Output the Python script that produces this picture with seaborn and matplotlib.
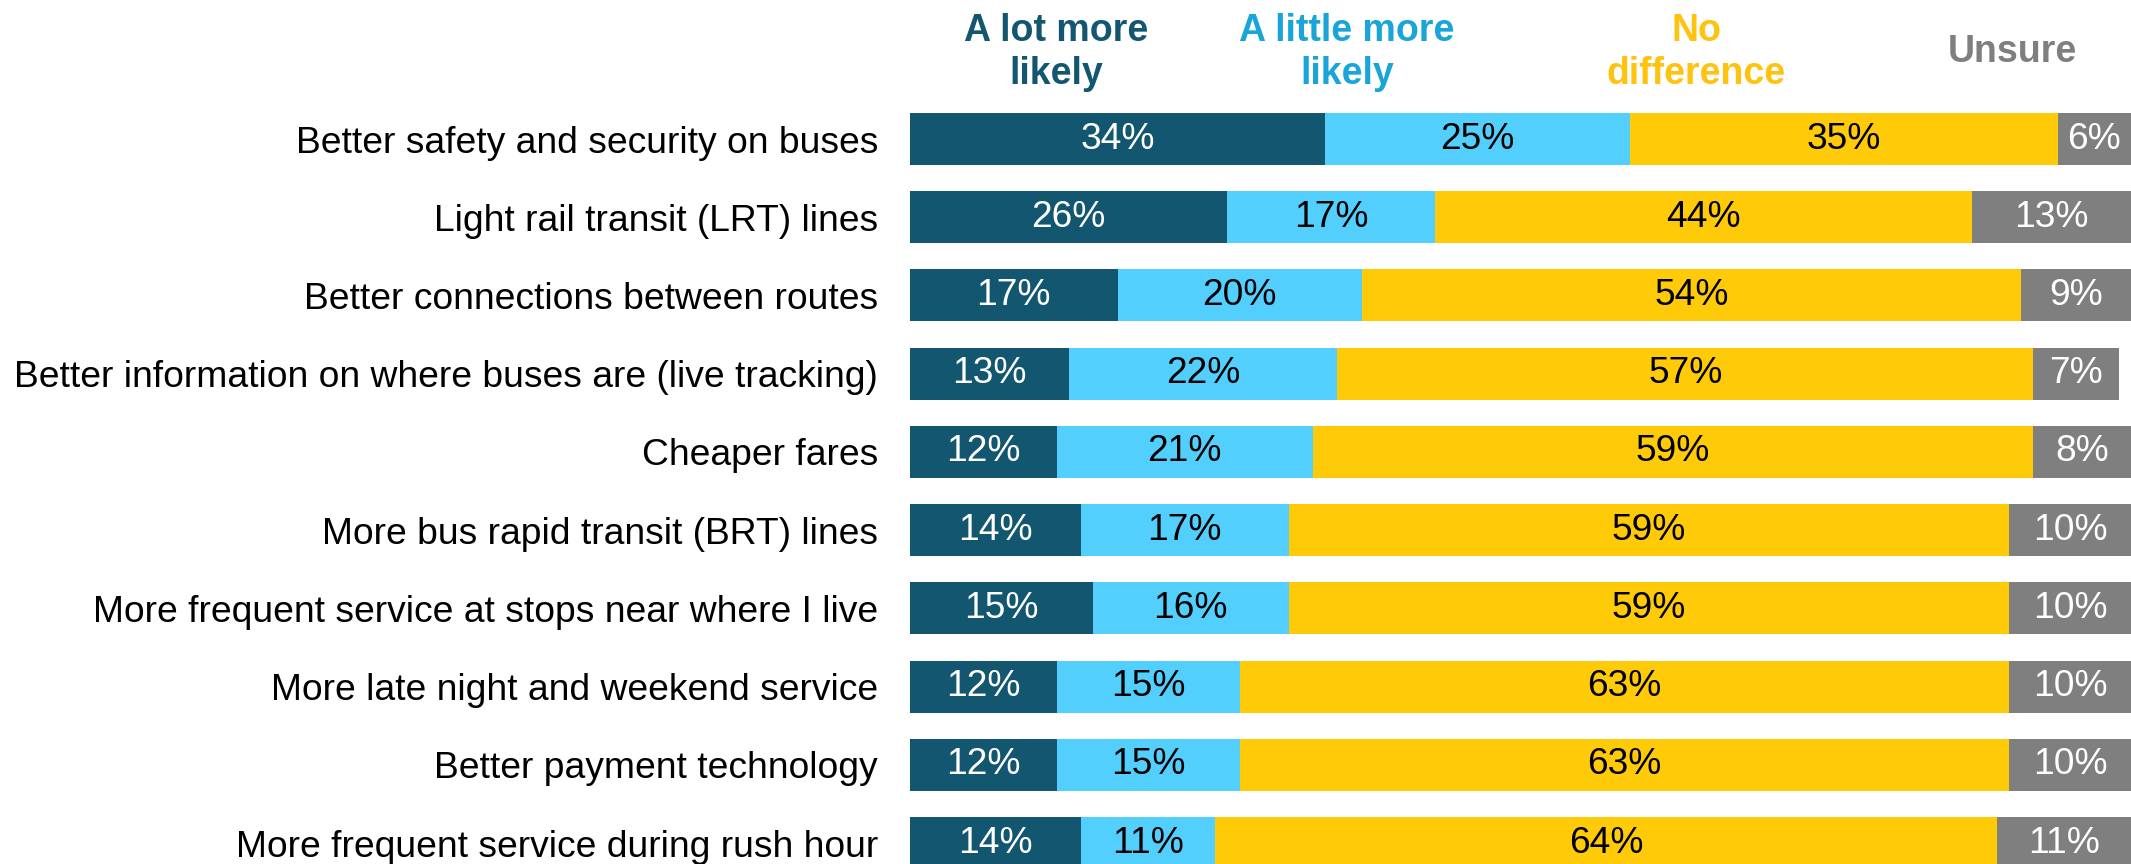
import numpy as np
import pandas as pd
import matplotlib
matplotlib.use("Agg")
import matplotlib.pyplot as plt
import seaborn as sns

# survey items, top to bottom
items = [
    "Better safety and security on buses",
    "Light rail transit (LRT) lines",
    "Better connections between routes",
    "Better information on where buses are (live tracking)",
    "Cheaper fares",
    "More bus rapid transit (BRT) lines",
    "More frequent service at stops near where I live",
    "More late night and weekend service",
    "Better payment technology",
    "More frequent service during rush hour",
]
a_lot = [34, 26, 17, 13, 12, 14, 15, 12, 12, 14]
a_little = [25, 17, 20, 22, 21, 17, 16, 15, 15, 11]
no_diff = [35, 44, 54, 57, 59, 59, 59, 63, 63, 64]
unsure = [6, 13, 9, 7, 8, 10, 10, 10, 10, 11]

series = ["A lot more\nlikely", "A little more\nlikely", "No\ndifference", "Unsure"]
bar_colors = ["#135670", "#53CFFD", "#FFCA08", "#7F7F7F"]
head_colors = ["#135670", "#1AA5D8", "#FFC20E", "#7F7F7F"]
text_colors = ["white", "black", "black", "white"]

sns.set_style("white")
plt.rcParams["font.family"] = ["Liberation Sans", "DejaVu Sans"]

df = pd.DataFrame({"item": items, "s0": a_lot, "s1": a_little, "s2": no_diff, "s3": unsure})
vals = df[["s0", "s1", "s2", "s3"]].to_numpy()
cum = vals.cumsum(axis=1)

fig = plt.figure(figsize=(21.31, 8.64), dpi=100)
ax = fig.add_axes([910 / 2131, 0, 1 - 910 / 2131, 1])

# stacked bars: draw the cumulative totals from the widest down
for k in range(3, -1, -1):
    d = pd.DataFrame({"item": items, "cum": cum[:, k]})
    sns.barplot(data=d, x="cum", y="item", orient="h", color=bar_colors[k],
                saturation=1, width=0.665, linewidth=0, ax=ax)

for i in range(len(items)):
    for k in range(4):
        mid = cum[i, k] - vals[i, k] / 2
        ax.text(mid, i, f"{vals[i, k]}%", ha="center", va="center",
                fontsize=26.7, color=text_colors[k])

# column headers
head_x = [12.0, 35.8, 64.4, 90.3]
for k in range(4):
    ax.text(head_x[k], -1.11, series[k], ha="center", va="center", fontsize=27,
            fontweight="bold", color=head_colors[k], linespacing=1.25)

ax.set_xlim(0, 100)
ax.set_ylim(9.268, -1.777)
ax.set_xlabel("")
ax.set_ylabel("")
ax.set_xticks([])
ax.tick_params(axis="y", length=0, pad=23, labelsize=26.8, labelcolor="black")
sns.despine(ax=ax, left=True, bottom=True)

fig.savefig("out.png", dpi=100)
